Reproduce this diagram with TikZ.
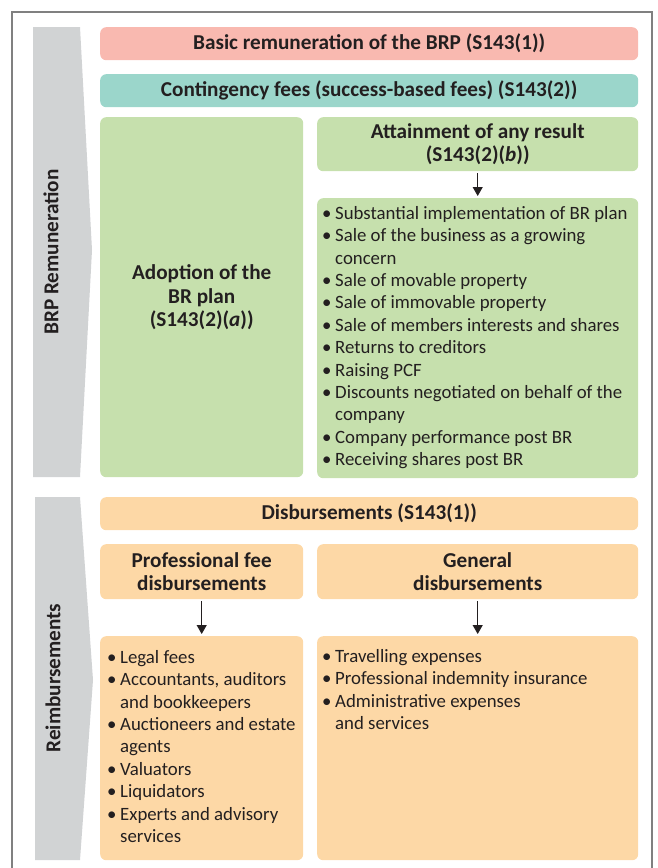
\documentclass[tikz,border=0pt]{standalone}
\usepackage{fontspec}
\setmainfont{Carlito}
\usetikzlibrary{arrows.meta}

\definecolor{basicpink}{HTML}{F9B9B0}
\definecolor{feeteal}{HTML}{9BD6CB}
\definecolor{resultgreen}{HTML}{C6E0AD}
\definecolor{disborange}{HTML}{FDD8A6}
\definecolor{bargray}{HTML}{D1D3D4}
\definecolor{inkdark}{HTML}{231F20}
\definecolor{framegray}{HTML}{808080}

\newcommand{\litem}[1]{\makebox[13pt][l]{\textbullet}#1}
\newcommand{\lpad}{\hspace*{13pt}}

\begin{document}
\begin{tikzpicture}[x=1pt,y=-1pt,
    titlebox/.style={rounded corners=6pt, inner sep=0pt, anchor=north west,
      align=center, text=inkdark, font=\bfseries\fontsize{21.2}{23.8}\selectfont},
    plainbox/.style={rounded corners=6pt, inner sep=0pt, anchor=north west},
    itemtext/.style={inner sep=0pt, anchor=north west, align=left,
      text=inkdark, font=\fontsize{18.8}{22.4}\selectfont},
    sidebar/.style={fill=bargray},
    sidelabel/.style={rotate=90, text=inkdark, font=\bfseries\fontsize{21.2}{24}\selectfont},
    downarrow/.style={draw=inkdark, line width=1pt, -{Triangle[length=9pt,width=10pt]},
      shorten <=2pt, shorten >=2pt}
  ]

    \useasboundingbox (0,0) rectangle (657,868);
    \draw[framegray, line width=1.2pt] (12,868) -- (12,12) -- (652,12) -- (652,868);

    % side bars
    \fill[sidebar] (33,27) -- (80,27) -- (92,250) -- (80,477) -- (33,477) -- cycle;
    \fill[sidebar] (35,497) -- (80,497) -- (93,680) -- (80,860) -- (35,860) -- cycle;
    \node[sidelabel] (brplabel) at (51,252) {BRP Remuneration};
    \node[sidelabel] (reimblabel) at (53,678) {Reimbursements};

    % remuneration
    \node[titlebox, fill=basicpink, minimum width=538, minimum height=33] (basic) at (100,27)
      {Basic remuneration of the BRP (S143(1))};
    \node[titlebox, fill=feeteal, minimum width=538, minimum height=33] (contingency) at (100,74)
      {Contingency fees (success-based fees) (S143(2))};
    \node[titlebox, fill=resultgreen, minimum width=203, minimum height=360] (adoption) at (100,117)
      {Adoption of the\\BR plan\\(S143(2)(\textit{a}))};
    \node[titlebox, fill=resultgreen, minimum width=321, minimum height=54] (attain) at (317,117)
      {Attainment of any result\\(S143(2)(\textit{b}))};
    \node[plainbox, fill=resultgreen, minimum width=321, minimum height=280] (results) at (317,198) {};
    \node[itemtext] (resulttext) at ([shift={(5,8)}]results.north west)
      {\litem{Substantial implementation of BR plan}\\
       \litem{Sale of the business as a growing}\\
       \lpad concern\\
       \litem{Sale of movable property}\\
       \litem{Sale of immovable property}\\
       \litem{Sale of members interests and shares}\\
       \litem{Returns to creditors}\\
       \litem{Raising PCF}\\
       \litem{Discounts negotiated on behalf of the}\\
       \lpad company\\
       \litem{Company performance post BR}\\
       \litem{Receiving shares post BR}};
    \draw[downarrow] (attain.south) -- (results.north);

    % reimbursements
    \node[titlebox, fill=disborange, minimum width=538, minimum height=33] (disb) at (100,497)
      {Disbursements (S143(1))};
    \node[titlebox, fill=disborange, minimum width=203, minimum height=55] (profee) at (100,544)
      {Professional fee\\disbursements};
    \node[titlebox, fill=disborange, minimum width=321, minimum height=55] (general) at (317,544)
      {General\\disbursements};
    \node[plainbox, fill=disborange, minimum width=203, minimum height=224] (profitems) at (100,636) {};
    \node[plainbox, fill=disborange, minimum width=321, minimum height=224] (genitems) at (317,636) {};
    \node[itemtext] (proftext) at ([shift={(7,14)}]profitems.north west)
      {\litem{Legal fees}\\
       \litem{Accountants, auditors}\\
       \lpad and bookkeepers\\
       \litem{Auctioneers and estate}\\
       \lpad agents\\
       \litem{Valuators}\\
       \litem{Liquidators}\\
       \litem{Experts and advisory}\\
       \lpad services};
    \node[itemtext] (gentext) at ([shift={(5,13)}]genitems.north west)
      {\litem{Travelling expenses}\\
       \litem{Professional indemnity insurance}\\
       \litem{Administrative expenses}\\
       \lpad and services};
    \draw[downarrow] (profee.south) -- (profitems.north);
    \draw[downarrow] (general.south) -- (genitems.north);

\end{tikzpicture}
\end{document}
